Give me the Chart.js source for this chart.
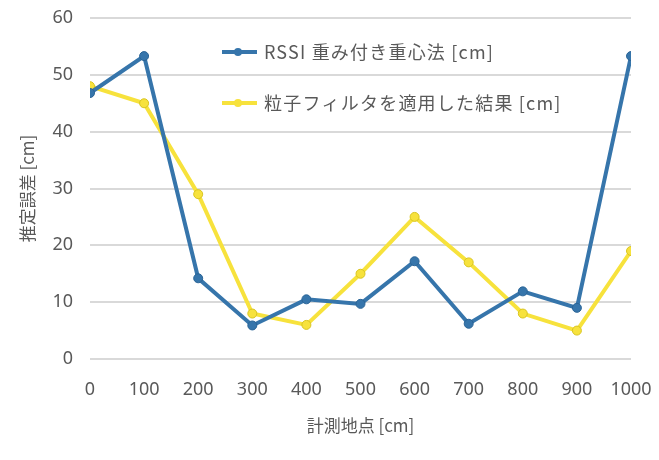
<!DOCTYPE html>
<html><head><meta charset="utf-8">
<script src="https://cdn.jsdelivr.net/npm/chart.js@4"></script>
<style>html,body{margin:0;padding:0;background:#fff}#wrap{width:659px;height:460px}</style>
</head><body><div id="wrap"><canvas id="c" width="659" height="460"></canvas></div>
<script>
const positions = [0,100,200,300,400,500,600,700,800,900,1000];
const rssiValues = [46.8,53.3,14.2,5.9,10.5,9.7,17.2,6.2,11.9,9.0,53.3];
const filterValues = [48,45,29,8,6,15,25,17,8,5,19];
const seriesNames = ['RSSI 重み付き重心法 [cm]','粒子フィルタを適用した結果 [cm]'];
const xTitle = '計測地点 [cm]';
const yTitle = '推定誤差 [cm]';
const BLUE = '#3675ab', YELLOW = '#f7e23c';
const FONT = "'Noto Sans CJK JP','Noto Sans',sans-serif";
const TICKFONT = "'Noto Sans','Open Sans',sans-serif";

const legendPlugin = {
  id: 'inlegend',
  afterDraw(chart) {
    const ctx = chart.ctx, ca = chart.chartArea;
    const items = [[seriesNames[0], BLUE], [seriesNames[1], YELLOW]];
    const x0 = ca.left + 132, ys = [ca.top + 34, ca.top + 85];
    ctx.save();
    items.forEach((it, i) => {
      const y = ys[i];
      ctx.strokeStyle = it[1]; ctx.lineWidth = 4;
      ctx.beginPath(); ctx.moveTo(x0, y); ctx.lineTo(x0 + 35, y); ctx.stroke();
      ctx.fillStyle = it[1];
      ctx.beginPath(); ctx.arc(x0 + 16, y, 4, 0, Math.PI * 2); ctx.fill();
      ctx.fillStyle = '#595959'; ctx.font = '18px ' + FONT;
      try { ctx.letterSpacing = '1.2px'; } catch (e) {}
      ctx.textBaseline = 'middle'; ctx.textAlign = 'left';
      ctx.fillText(it[0], x0 + 42, y);
    });
    ctx.restore();
  }
};

new Chart(document.getElementById('c'), {
  type: 'line',
  data: {
    datasets: [
      { label: seriesNames[0], data: positions.map((p, i) => ({x: p, y: rssiValues[i]})),
        borderColor: BLUE, backgroundColor: BLUE, borderWidth: 4, pointRadius: 4.5, pointBorderWidth: 1, pointBorderColor: '#2a6496', tension: 0 },
      { label: seriesNames[1], data: positions.map((p, i) => ({x: p, y: filterValues[i]})),
        borderColor: YELLOW, backgroundColor: YELLOW, borderWidth: 4, pointRadius: 4.5, pointBorderWidth: 1, pointBorderColor: '#d8c420', tension: 0 }
    ]
  },
  options: {
    responsive: false, animation: false,
    layout: { padding: { left: 0, right: 28, top: 18, bottom: 0 } },
    plugins: { legend: { display: false }, tooltip: { enabled: false } },
    scales: {
      x: { type: 'linear', min: 0, max: 1000,
        afterFit(s) { s.height = 101; s.paddingLeft = 0; s.paddingRight = 0; },
        ticks: { stepSize: 100, color: '#595959', font: { size: 18, family: TICKFONT }, padding: 20, maxRotation: 0,
                 callback: v => String(v) },
        grid: { display: false, drawTicks: false }, border: { display: false },
        title: { display: true, text: xTitle, color: '#595959', font: { size: 17, family: FONT }, padding: { top: 0, bottom: 24 } } },
      y: { min: 0, max: 60,
        afterFit(s) { s.width = 90; s.paddingTop = 0; s.paddingBottom = 0; },
        ticks: { stepSize: 10, color: '#595959', font: { size: 18, family: TICKFONT }, padding: 17 },
        grid: { color: '#d9d9d9', lineWidth: 2, drawTicks: false }, border: { display: false },
        title: { display: true, text: yTitle, color: '#595959', font: { size: 17, family: FONT }, padding: { top: 17, bottom: 0 } } }
    }
  },
  plugins: [legendPlugin]
});
</script></body></html>
